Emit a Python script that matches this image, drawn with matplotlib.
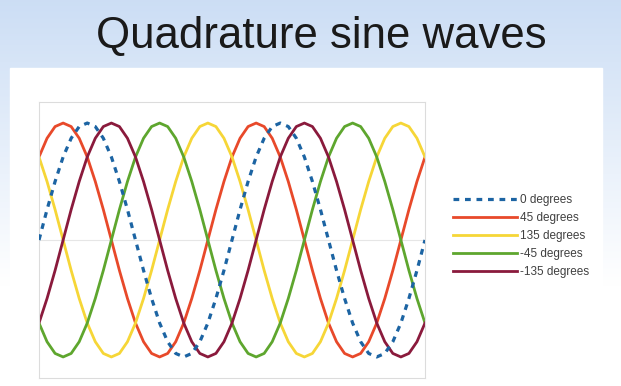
import matplotlib.pyplot as plt
import numpy as np
from matplotlib.patches import Rectangle

plt.rcParams['font.family'] = ['Liberation Sans', 'DejaVu Sans']

# phase angle along the x axis (degrees), 15 degree steps over two cycles
angle = list(range(0, 721, 15))

wave_0 = [0, .26, .5, .71, .87, .97, 1, .97, .87, .71, .5, .26,
          0, -.26, -.5, -.71, -.87, -.97, -1, -.97, -.87, -.71, -.5, -.26,
          0, .26, .5, .71, .87, .97, 1, .97, .87, .71, .5, .26,
          0, -.26, -.5, -.71, -.87, -.97, -1, -.97, -.87, -.71, -.5, -.26, 0]
wave_45 = [.71, .87, .97, 1, .97, .87, .71, .5, .26, 0, -.26, -.5,
           -.71, -.87, -.97, -1, -.97, -.87, -.71, -.5, -.26, 0, .26, .5,
           .71, .87, .97, 1, .97, .87, .71, .5, .26, 0, -.26, -.5,
           -.71, -.87, -.97, -1, -.97, -.87, -.71, -.5, -.26, 0, .26, .5, .71]
wave_135 = [.71, .5, .26, 0, -.26, -.5, -.71, -.87, -.97, -1, -.97, -.87,
            -.71, -.5, -.26, 0, .26, .5, .71, .87, .97, 1, .97, .87,
            .71, .5, .26, 0, -.26, -.5, -.71, -.87, -.97, -1, -.97, -.87,
            -.71, -.5, -.26, 0, .26, .5, .71, .87, .97, 1, .97, .87, .71]
wave_m45 = [-.71, -.87, -.97, -1, -.97, -.87, -.71, -.5, -.26, 0, .26, .5,
            .71, .87, .97, 1, .97, .87, .71, .5, .26, 0, -.26, -.5,
            -.71, -.87, -.97, -1, -.97, -.87, -.71, -.5, -.26, 0, .26, .5,
            .71, .87, .97, 1, .97, .87, .71, .5, .26, 0, -.26, -.5, -.71]
wave_m135 = [-.71, -.5, -.26, 0, .26, .5, .71, .87, .97, 1, .97, .87,
             .71, .5, .26, 0, -.26, -.5, -.71, -.87, -.97, -1, -.97, -.87,
             -.71, -.5, -.26, 0, .26, .5, .71, .87, .97, 1, .97, .87,
             .71, .5, .26, 0, -.26, -.5, -.71, -.87, -.97, -1, -.97, -.87, -.71]

labels = ['0 degrees', '45 degrees', '135 degrees', '-45 degrees', '-135 degrees']
colors = ['#1c64a3', '#e8492a', '#f6d637', '#5ea62e', '#8a1a3c']

fig = plt.figure(figsize=(6.21, 3.86), dpi=100)

# slide background: pale blue fading to white, with a white panel on top
bg = fig.add_axes([0, 0, 1, 1], zorder=-10)
grad = np.clip(np.linspace(0, 1.35, 256), 0, 1).reshape(-1, 1, 1)
top = np.array([0.80, 0.87, 0.96]).reshape(1, 1, 3)
img = top * (1 - grad) + grad
bg.imshow(img, aspect='auto', extent=[0, 1, 0, 1], origin='upper')
bg.add_patch(Rectangle((10 / 621, 0), 592 / 621, 318 / 386, color='white'))
bg.set_xlim(0, 1)
bg.set_ylim(0, 1)
bg.axis('off')

fig.text(0.518, 0.876, 'Quadrature sine waves', ha='center', va='baseline',
         fontsize=31.5, color='#1a1a1a')

ax = fig.add_axes([39 / 621, 8 / 386, 386 / 621, 276 / 386])
series = [wave_0, wave_45, wave_135, wave_m45, wave_m135]
for i, vals in enumerate(series):
    if i == 0:
        ax.plot(angle, vals, color=colors[i], lw=2.3, ls=(0, (1.8, 1.8)),
                dash_capstyle='butt', label=labels[i], zorder=3)
    else:
        ax.plot(angle, vals, color=colors[i], lw=2.0, label=labels[i], zorder=2)

ax.axhline(0, color='#e6e6e6', lw=0.8, zorder=1)
ax.set_xlim(0, 720)
ax.set_ylim(-1.18, 1.18)
ax.set_xticks([])
ax.set_yticks([])
for sp in ax.spines.values():
    sp.set_color('#dcdcdc')
    sp.set_linewidth(0.8)

leg = ax.legend(loc='center left', bbox_to_anchor=(1.06, 0.515), frameon=False,
                fontsize=8.5, handlelength=5.4, handletextpad=0.25,
                labelspacing=0.5, borderaxespad=0)
for t in leg.get_texts():
    t.set_color('#404040')

plt.savefig('out.png', dpi=100)
